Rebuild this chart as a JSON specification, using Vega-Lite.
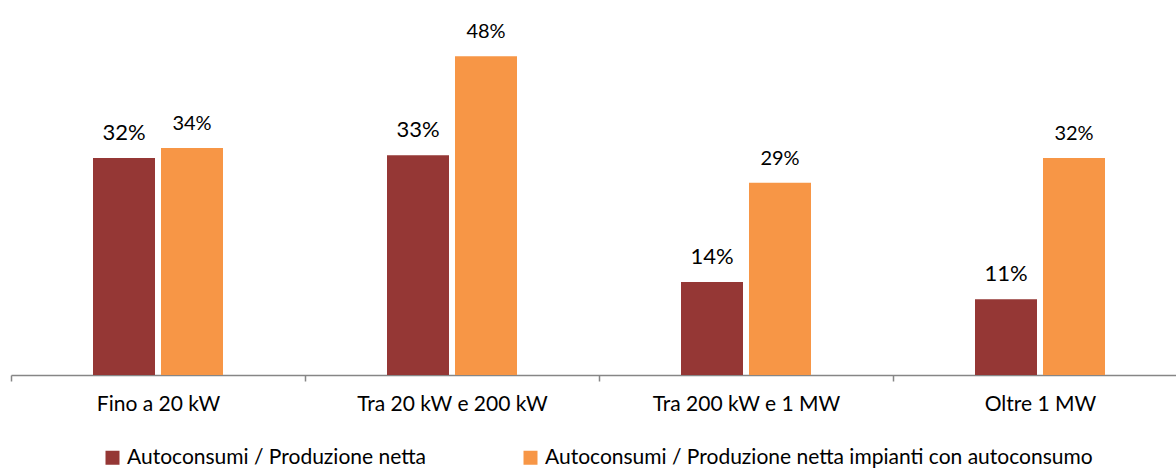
{
  "$schema": "https://vega.github.io/schema/vega-lite/v6.json",
  "autosize": "none",
  "width": 1165,
  "height": 375,
  "padding": {"left": 11, "top": 0, "right": 0, "bottom": 94},
  "background": "white",
  "config": {"view": {"stroke": null}, "font": "Lato"},
  "data": {"values": [
    {"categoria": "Fino a 20 kW", "serie": "Autoconsumi / Produzione netta", "valore": 0.324},
    {"categoria": "Fino a 20 kW", "serie": "Autoconsumi / Produzione netta impianti con autoconsumo", "valore": 0.339},
    {"categoria": "Tra 20 kW e 200 kW", "serie": "Autoconsumi / Produzione netta", "valore": 0.328},
    {"categoria": "Tra 20 kW e 200 kW", "serie": "Autoconsumi / Produzione netta impianti con autoconsumo", "valore": 0.476},
    {"categoria": "Tra 200 kW e 1 MW", "serie": "Autoconsumi / Produzione netta", "valore": 0.139},
    {"categoria": "Tra 200 kW e 1 MW", "serie": "Autoconsumi / Produzione netta impianti con autoconsumo", "valore": 0.287},
    {"categoria": "Oltre 1 MW", "serie": "Autoconsumi / Produzione netta", "valore": 0.113},
    {"categoria": "Oltre 1 MW", "serie": "Autoconsumi / Produzione netta impianti con autoconsumo", "valore": 0.324}
  ]},
  "encoding": {
    "x": {
      "field": "categoria", "type": "nominal", "sort": null, "title": null,
      "scale": {"range": [0, 1176], "paddingInner": 0, "paddingOuter": 0},
      "axis": {
        "domainColor": "#868686", "domainWidth": 1.5, "tickColor": "#868686", "tickWidth": 1.5,
        "tickSize": 6, "tickBand": "extent", "labelAngle": 0, "labelFontSize": 21,
        "labelColor": "#000000", "labelPadding": 12, "labelFont": "Lato", "labelLimit": 400
      }
    },
    "xOffset": {
      "field": "serie", "type": "nominal", "sort": null,
      "scale": {"range": [82, 212], "paddingInner": 0.0882, "paddingOuter": 0}
    },
    "y": {
      "field": "valore", "type": "quantitative",
      "scale": {"domain": [0, 0.56], "nice": false},
      "axis": null
    }
  },
  "layer": [
    {
      "mark": {"type": "bar"},
      "encoding": {
        "color": {
          "field": "serie", "type": "nominal", "sort": null,
          "scale": {"range": ["#953735", "#F79646"]},
          "legend": {
            "title": null, "orient": "none", "direction": "horizontal",
            "legendX": 91, "legendY": 447,
            "symbolType": "square", "symbolSize": 196, "symbolStrokeWidth": 0,
            "labelFontSize": 21, "labelFont": "Lato", "labelColor": "#000000",
            "labelOffset": 4, "columnPadding": 94, "labelLimit": 700
          }
        }
      }
    },
    {
      "mark": {"type": "text", "baseline": "alphabetic", "dy": -18, "color": "#000000", "font": "Lato"},
      "encoding": {
        "text": {"field": "valore", "type": "quantitative", "format": ".0%"},
        "size": {
          "field": "serie", "type": "nominal", "sort": null,
          "scale": {"domain": ["Autoconsumi / Produzione netta", "Autoconsumi / Produzione netta impianti con autoconsumo"], "range": [22, 20]},
          "legend": null
        }
      }
    }
  ]
}
